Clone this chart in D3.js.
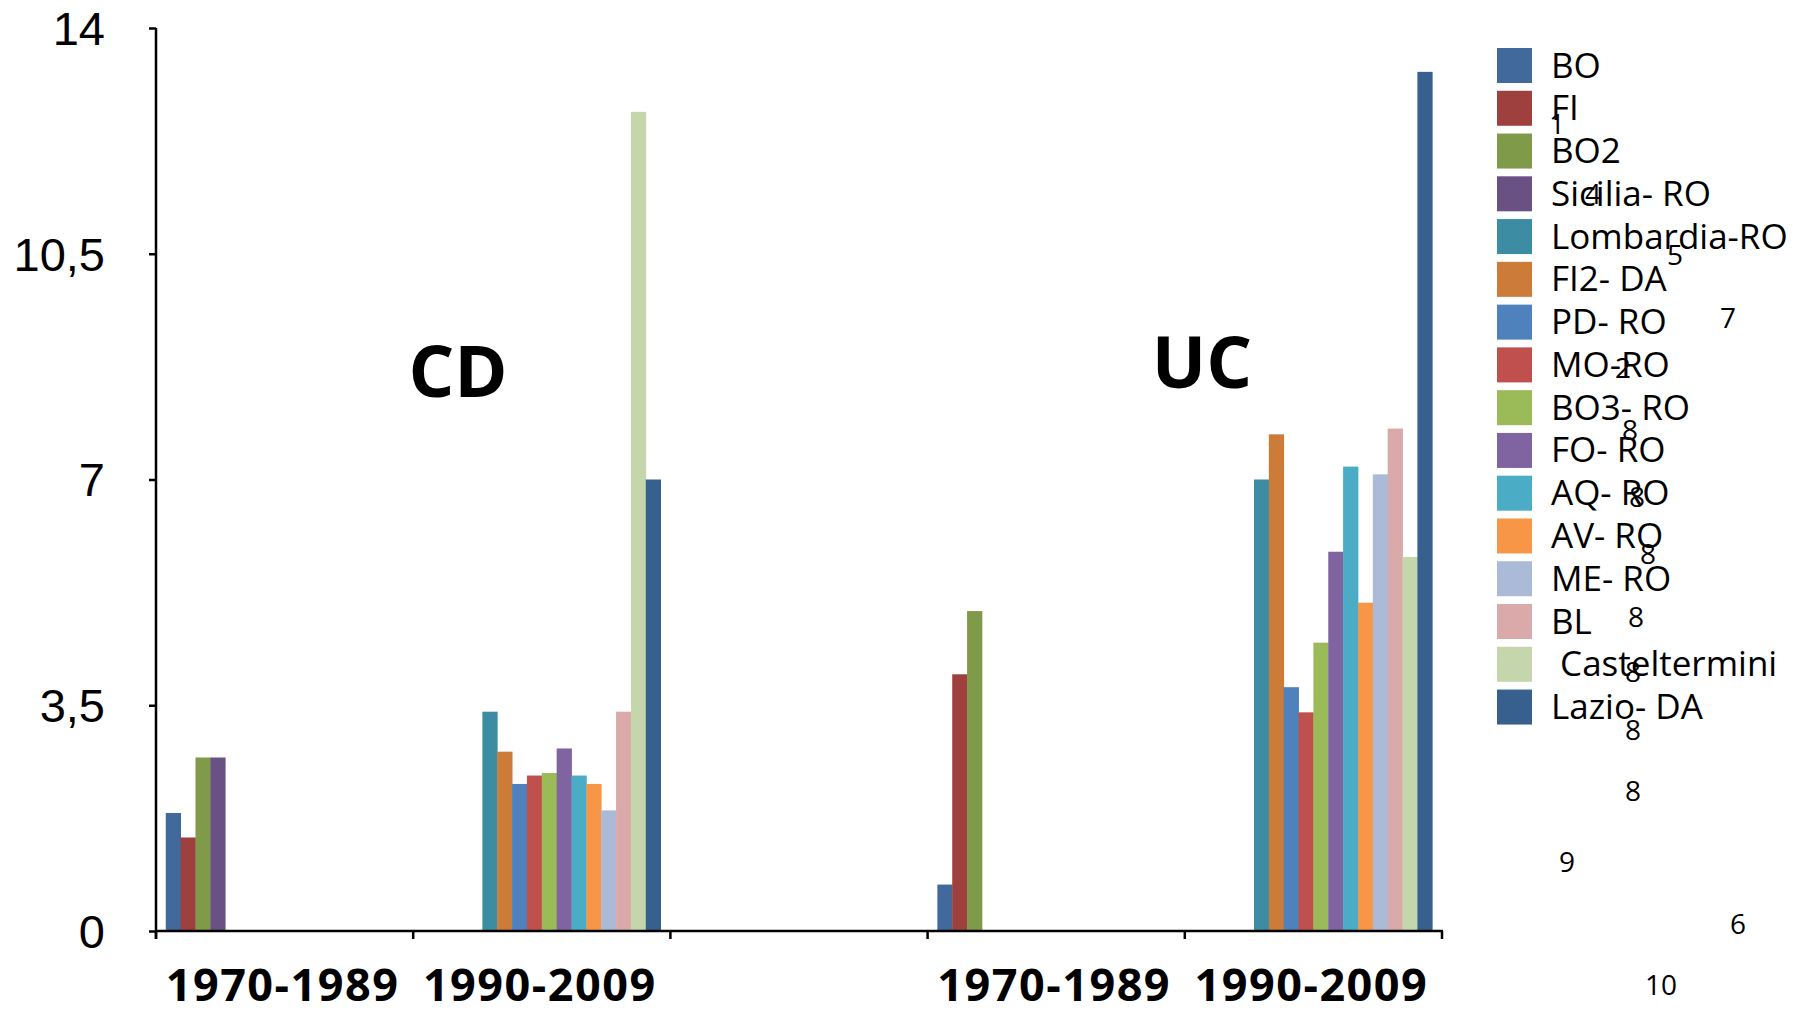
<!DOCTYPE html>
<html>
<head>
<meta charset="utf-8">
<script src="https://cdn.jsdelivr.net/npm/d3@7"></script>
<style>
  html, body { margin: 0; padding: 0; background: #fff; }
  svg { display: block; }
  text { white-space: pre; }
</style>
</head>
<body>
<svg id="chart" width="1793" height="1013"></svg>
<script>
// Period categories along the x axis (the middle slot separates the two groups)
const categories = ["1970-1989", "1990-2009", "", "1970-1989", "1990-2009"];

// Series (one bar per series inside each period)
const seriesNames = ["BO", "FI", "BO2", "Sicilia- RO", "Lombardia-RO", "FI2- DA", "PD- RO", "MO-RO",
  "BO3- RO", "FO- RO", "AQ- RO", "AV- RO", "ME- RO", "BL", " Casteltermini", "Lazio- DA"];

// Values per period, in series order
const cd1970 = [1.83, 1.45, 2.69, 2.69, 0, 0, 0, 0, 0, 0, 0, 0, 0, 0, 0, 0];
const cd1990 = [0, 0, 0, 0, 3.40, 2.78, 2.28, 2.41, 2.45, 2.83, 2.41, 2.28, 1.87, 3.40, 12.70, 7.00];
const spacer = [0, 0, 0, 0, 0, 0, 0, 0, 0, 0, 0, 0, 0, 0, 0, 0];
const uc1970 = [0.72, 3.98, 4.96, 0, 0, 0, 0, 0, 0, 0, 0, 0, 0, 0, 0, 0];
const uc1990 = [0, 0, 0, 0, 7.00, 7.70, 3.78, 3.39, 4.47, 5.88, 7.20, 5.09, 7.08, 7.79, 5.80, 13.32];

// Y axis ticks and their labels (decimal comma)
const yTicks = [0, 3.5, 7, 10.5, 14];
const yTickLabels = ["0", "3,5", "7", "10,5", "14"];

// Group captions
const groupLabels = ["CD", "UC"];

// Small numbers scattered over the legend area
const noteNumbers = ["1", "4", "5", "7", "2", "8", "8", "8", "8", "8", "8", "8", "9", "6", "10"];

// ---- styling and layout ----
const seriesColors = ["#41699b", "#9d403e", "#7f9a48", "#695184", "#3c8ca3", "#cc7b38", "#4f81bd", "#c0504d",
  "#9bbb59", "#8064a2", "#4bacc6", "#f79646", "#aabad7", "#d9aaa9", "#c6d6ac", "#37608f"];
const groupLabelPos = [{ x: 458, y: 397 }, { x: 1202, y: 388 }];
const notePos = [
  [1557, 124], [1593, 194], [1675, 255], [1728, 318], [1623, 368], [1630, 430], [1637, 497],
  [1648, 554], [1636, 617], [1633, 672], [1633, 730], [1633, 791], [1567, 862], [1738, 924], [1661, 985]
];

const periodValues = [cd1970, cd1990, spacer, uc1970, uc1990];

const svg = d3.select("#chart");
const plotLeft = 156, plotRight = 1442, plotTop = 28, plotBottom = 931;

const x0 = d3.scaleBand()
  .domain(d3.range(categories.length))
  .range([plotLeft, plotRight])
  .paddingInner(0.076)
  .paddingOuter(0.038);

const x1 = d3.scaleBand()
  .domain(d3.range(seriesNames.length))
  .range([0, x0.bandwidth()]);

const y = d3.scaleLinear().domain([0, 14]).range([plotBottom, plotTop]);

// Bars
const groups = svg.append("g").selectAll("g")
  .data(periodValues)
  .join("g")
  .attr("transform", (d, i) => `translate(${x0(i)},0)`);

groups.selectAll("rect")
  .data(d => d.map((v, s) => ({ v, s })).filter(o => o.v > 0))
  .join("rect")
  .attr("x", d => x1(d.s))
  .attr("width", x1.bandwidth() + 0.4)
  .attr("y", d => y(d.v))
  .attr("height", d => y(0) - y(d.v))
  .attr("fill", d => seriesColors[d.s]);

// Y axis
const yAxis = d3.axisLeft(y)
  .tickValues(yTicks)
  .tickSize(7)
  .tickPadding(44)
  .tickFormat((d, i) => yTickLabels[i]);

const yg = svg.append("g")
  .attr("transform", `translate(${plotLeft},0)`)
  .call(yAxis);
yg.select(".domain").attr("stroke", "#000").attr("stroke-width", 2.5)
  .attr("d", `M0,${plotTop}V${plotBottom + 8}`);
yg.selectAll(".tick line").attr("stroke", "#000").attr("stroke-width", 2.5);
yg.selectAll(".tick text")
  .attr("font-family", "'Liberation Sans', Arial, sans-serif")
  .attr("font-size", 47)
  .attr("fill", "#000")
  .attr("dy", "0.35em");

// X axis: ticks at category boundaries
const boundaries = d3.range(categories.length + 1).map(i => plotLeft + i * x0.step());
const xg = svg.append("g");
xg.append("path")
  .attr("d", `M${plotLeft},${plotBottom}H${plotRight + 1}`)
  .attr("stroke", "#000").attr("stroke-width", 2.5).attr("fill", "none");
xg.selectAll("line.xt")
  .data(boundaries)
  .join("line")
  .attr("class", "xt")
  .attr("x1", d => d).attr("x2", d => d)
  .attr("y1", plotBottom).attr("y2", plotBottom + 8)
  .attr("stroke", "#000").attr("stroke-width", 2.5);

xg.selectAll("text")
  .data(categories)
  .join("text")
  .attr("x", (d, i) => x0(i) + x0.bandwidth() / 2 - 2)
  .attr("y", 1001)
  .attr("text-anchor", "middle")
  .attr("font-family", "'Open Sans', sans-serif")
  .attr("font-weight", 700)
  .attr("font-size", 45)
  .attr("letter-spacing", 1.5)
  .attr("fill", "#000")
  .text(d => d);

// Group captions
svg.append("g").selectAll("text")
  .data(groupLabels)
  .join("text")
  .attr("x", (d, i) => groupLabelPos[i].x)
  .attr("y", (d, i) => groupLabelPos[i].y)
  .attr("text-anchor", "middle")
  .attr("font-family", "'Open Sans', sans-serif")
  .attr("font-weight", 700)
  .attr("font-size", 72)
  .attr("fill", "#000")
  .text(d => d);

// Legend
const legendTop = 48, legendStep = 42.77;
const legend = svg.append("g").selectAll("g")
  .data(seriesNames)
  .join("g")
  .attr("transform", (d, i) => `translate(1497,${legendTop + i * legendStep})`);
legend.append("rect")
  .attr("width", 35).attr("height", 35)
  .attr("fill", (d, i) => seriesColors[i]);
legend.append("text")
  .attr("x", 54).attr("y", 29.5)
  .attr("font-family", "'Open Sans', sans-serif")
  .attr("font-size", 35)
  .attr("fill", "#000")
  .text(d => d);

// Scattered numbers
svg.append("g").selectAll("text")
  .data(noteNumbers)
  .join("text")
  .attr("x", (d, i) => notePos[i][0])
  .attr("y", (d, i) => notePos[i][1])
  .attr("dy", "0.36em")
  .attr("text-anchor", "middle")
  .attr("font-family", "'Open Sans', sans-serif")
  .attr("font-size", 28)
  .attr("fill", "#000")
  .text(d => d);
</script>
</body>
</html>
